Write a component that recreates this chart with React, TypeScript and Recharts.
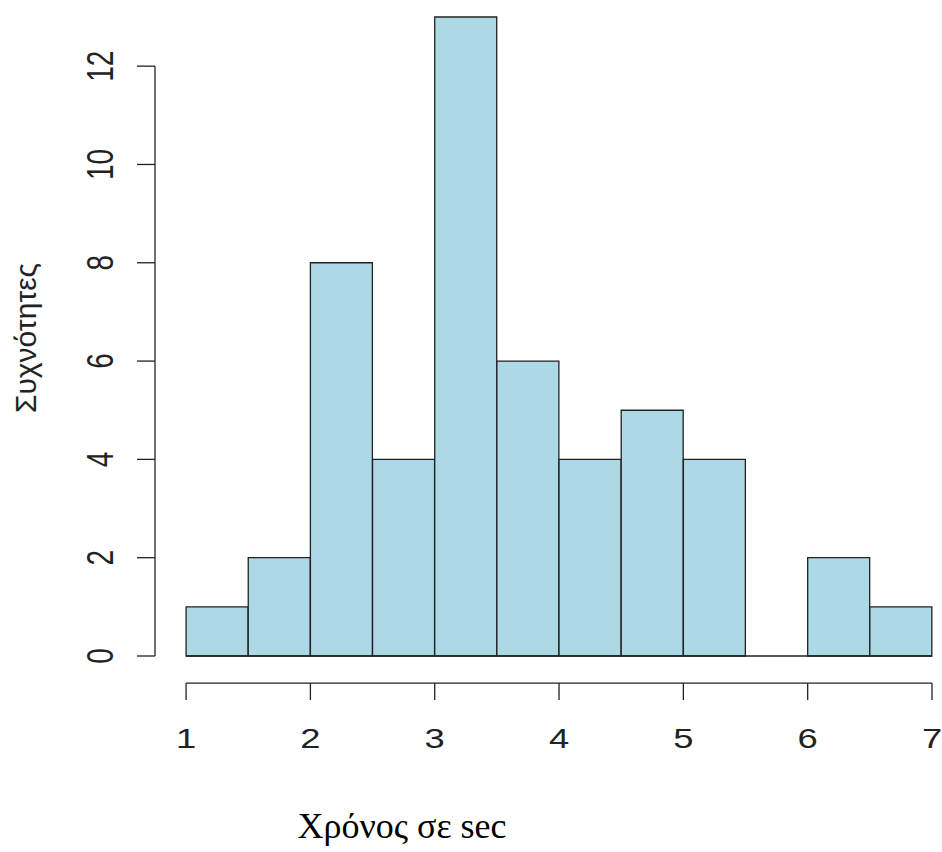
import React from "react";
import { ComposedChart, Bar, XAxis, YAxis, ReferenceLine } from "recharts";

// Histogram bins (left edges), width 0.5
const binLefts = [1, 1.5, 2, 2.5, 3, 3.5, 4, 4.5, 5, 5.5, 6, 6.5];
const binWidth = 0.5;
const counts = [1, 2, 8, 4, 13, 6, 4, 5, 4, 0, 2, 1];
const xTicks = [1, 2, 3, 4, 5, 6, 7];
const yTicks = [0, 2, 4, 6, 8, 10, 12];
const xTitle = "Χρόνος σε sec";
const yTitle = "Συχνότητες";

const X_MIN = 0.75; // where the y axis sits
const X_MAX = 7;
const Y_MAX = 13;
const X_AXIS_LEVEL = -0.55; // detached x axis line (below 0)

const data = binLefts.map((l, i) => ({ mid: l + binWidth / 2, count: counts[i] }));

const INK = "#222";
const TICK_FONT = "'Liberation Sans', Arial, sans-serif";
const STRETCH = 1.3;

const XTick = (props: any) => {
  const { x, y, payload } = props;
  return (
    <g>
      <line x1={x} y1={y + 27} x2={x} y2={y + 44} stroke={INK} strokeWidth={1.3} />
      <text
        x={0}
        y={0}
        transform={`translate(${x} ${y + 92}) scale(${STRETCH} 1)`}
        textAnchor="middle"
        fontFamily={TICK_FONT}
        fontSize={28}
        fill={INK}
      >
        {payload.value}
      </text>
    </g>
  );
};

const YTick = (props: any) => {
  const { x, y, payload } = props;
  const tx = x - 24;
  return (
    <text
      x={0}
      y={0}
      transform={`translate(${tx} ${y}) scale(${STRETCH} 1) rotate(-90)`}
      textAnchor="middle"
      fontFamily={TICK_FONT}
      fontSize={28}
      fill={INK}
    >
      {payload.value}
    </text>
  );
};

export default function App() {
  return (
    <div style={{ position: "absolute", left: 0, top: 0, background: "#fff" }}>
      <ComposedChart
        width={942}
        height={852}
        data={data}
        margin={{ top: 17, right: 10, bottom: 0, left: 0 }}
        barCategoryGap={0}
        barGap={0}
      >
        <XAxis
          dataKey="mid"
          type="number"
          domain={[X_MIN, X_MAX]}
          ticks={xTicks}
          interval={0}
          height={196}
          axisLine={false}
          tickLine={false}
          tickSize={0}
          tickMargin={0}
          tick={<XTick />}
          label={(p: any) => (
            <text
              x={402}
              y={p.viewBox.y + 182}
              textAnchor="middle"
              fontFamily="'Liberation Serif', 'Times New Roman', serif"
              fontSize={36}
              fill="#000"
            >
              {xTitle}
            </text>
          )}
        />
        <YAxis
          type="number"
          domain={[0, Y_MAX]}
          ticks={yTicks}
          interval={0}
          width={155}
          axisLine={false}
          tickLine={{ stroke: INK, strokeWidth: 1.3 }}
          tickSize={18}
          tickMargin={0}
          tick={<YTick />}
          label={() => {
            const cx = 36;
            const cy = 338;
            return (
              <text
                x={cx}
                y={cy}
                transform={`rotate(-90 ${cx} ${cy})`}
                textAnchor="middle"
                fontFamily={TICK_FONT}
                fontSize={30}
                fill={INK}
              >
                {yTitle}
              </text>
            );
          }}
        />
        <Bar
          dataKey="count"
          fill="#ADD8E6"
          stroke={INK}
          strokeWidth={1.3}
          isAnimationActive={false}
        />
        <ReferenceLine
          segment={[{ x: xTicks[0], y: 0 }, { x: X_MAX, y: 0 }]}
          stroke={INK}
          strokeWidth={1.3}
          ifOverflow="visible"
        />
        <ReferenceLine
          segment={[{ x: X_MIN, y: yTicks[0] }, { x: X_MIN, y: yTicks[yTicks.length - 1] }]}
          stroke={INK}
          strokeWidth={1.3}
          ifOverflow="visible"
        />
        <ReferenceLine
          segment={[{ x: xTicks[0], y: X_AXIS_LEVEL }, { x: xTicks[xTicks.length - 1], y: X_AXIS_LEVEL }]}
          stroke={INK}
          strokeWidth={1.3}
          ifOverflow="visible"
        />
      </ComposedChart>
    </div>
  );
}
